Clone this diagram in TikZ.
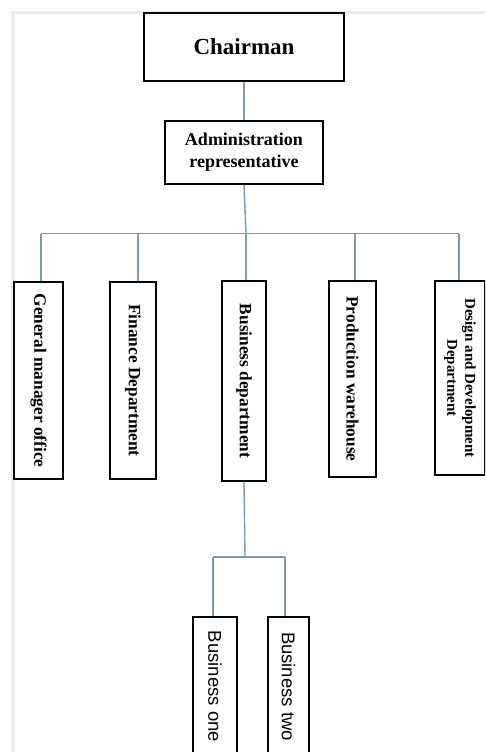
\documentclass[tikz,border=0pt]{standalone}
\usepackage{fontspec}
\setmainfont{Liberation Serif}
\newfontfamily\arialfont{Liberation Sans}
\definecolor{conn}{RGB}{122,154,182}
\definecolor{framegray}{RGB}{236,237,240}
\tikzset{
  box/.style={draw=black, line width=1.2pt, fill=white, inner sep=0pt, align=center},
  vbox/.style={box, rotate=-90},
  link/.style={draw=conn, line width=1.4pt},
}
\begin{document}
\begin{tikzpicture}[x=1pt,y=-1pt]
\clip (0,0) rectangle (485,752);
\fill[white] (0,0) rectangle (485,752);
\fill[framegray] (11,11) rectangle (485,14.5);
\fill[framegray] (11,11) rectangle (15,752);

% top boxes
\node[box, minimum width=200pt, minimum height=68pt,
      font=\fontsize{23}{27}\selectfont\bfseries] (chair) at (244,47) {Chairman};
\node[box, minimum width=158pt, minimum height=63pt,
      font=\fontsize{18}{22}\selectfont\bfseries] (admin) at (244,152.5) {Administration\\representative};

% departments (rotated: minimum width = vertical extent)
\node[vbox, minimum width=197pt, minimum height=49pt,
      font=\fontsize{17.3}{20}\selectfont\bfseries] (gm) at (38.5,380.5) {General manager office};
\node[vbox, minimum width=197pt, minimum height=46pt,
      font=\fontsize{17.3}{20}\selectfont\bfseries] (fin) at (133,380.5) {Finance Department};
\node[vbox, minimum width=200pt, minimum height=44pt,
      font=\fontsize{17.3}{20}\selectfont\bfseries] (bus) at (244,381) {Business department};
\node[vbox, minimum width=196pt, minimum height=47pt,
      font=\fontsize{17.3}{20}\selectfont\bfseries] (prod) at (352.5,379) {Production warehouse};
\node[vbox, minimum width=194pt, minimum height=50pt,
      font=\fontsize{15}{18}\selectfont\bfseries] (des) at (460,378) {Design and Development\\Department};

% sub-business
\node[vbox, minimum width=139pt, minimum height=44pt,
      font=\fontsize{18.5}{22}\selectfont\arialfont] (b1) at (215,686.5) {Business one};
\node[vbox, minimum width=139pt, minimum height=41pt,
      font=\fontsize{18.5}{22}\selectfont\arialfont] (b2) at (288.5,686.5) {Business two};

% connector junctions
\coordinate (jG) at (41,233.5);
\coordinate (jF) at (138,233.5);
\coordinate (jB) at (246,233.5);
\coordinate (jP) at (355,233.5);
\coordinate (jD) at (459,233.5);
\coordinate (sT) at (245,557);
\coordinate (s1) at (213,557);
\coordinate (s2) at (285,557);

% connectors
\draw[link] (chair.south) -- (admin.north);
\draw[link] (admin.south) -- (jB);
\draw[link] (jG) -- (jD);
\draw[link] (jG) -- (jG |- gm.west);
\draw[link] (jF) -- (jF |- fin.west);
\draw[link] (jB) -- (jB |- bus.west);
\draw[link] (jP) -- (jP |- prod.west);
\draw[link] (jD) -- (jD |- des.west);
\draw[link] (bus.east) -- (sT);
\draw[link] (s1) -- (s2);
\draw[link] (s1) -- (s1 |- b1.west);
\draw[link] (s2) -- (s2 |- b2.west);
\end{tikzpicture}
\end{document}
